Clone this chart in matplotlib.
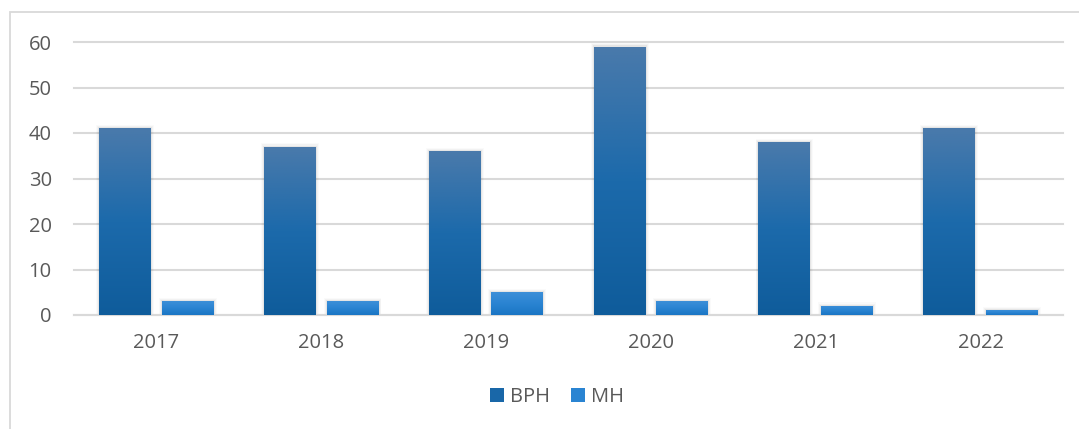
import matplotlib
matplotlib.use("Agg")
import matplotlib.pyplot as plt
import numpy as np
from matplotlib.patches import Rectangle
from matplotlib.colors import LinearSegmentedColormap

years = ["2017", "2018", "2019", "2020", "2021", "2022"]
bph = [41, 37, 36, 59, 38, 41]
mh = [3, 3, 5, 3, 2, 1]
yticks = [0, 10, 20, 30, 40, 50, 60]

plt.rcParams['font.family'] = ['Open Sans', 'DejaVu Sans']

W, H = 1079, 429
fig = plt.figure(figsize=(W / 100, H / 100), dpi=100)
ax = fig.add_axes([74 / W, 1 - 315 / H, (1063 - 74) / W, (315 - 42) / H])

# outer chart border
fig.patches.append(Rectangle((10 / W, -0.1), 1.2, 1 - 12 / H + 0.1, transform=fig.transFigure,
                             fill=False, edgecolor='#d9d9d9', linewidth=1.3, zorder=0))

x = np.arange(len(years))
bw = 0.315
off = 0.19

cm_bph = LinearSegmentedColormap.from_list('bph', ['#0f5c9b', '#1c6aab', '#4a7aab'])
cm_mh = LinearSegmentedColormap.from_list('mh', ['#1a75c4', '#2a84d2', '#3d8fd8'])

def grad_bars(xs, vals, cmap, label):
    bars = ax.bar(xs, vals, width=bw, color=cmap(0.5), label=label, zorder=3, linewidth=0)
    grad = np.linspace(0, 1, 256).reshape(-1, 1)
    for b in bars:
        bx, by = b.get_x(), b.get_y()
        bwid, bh = b.get_width(), b.get_height()
        # soft shadow
        for k, a in enumerate([0.05, 0.03, 0.02]):
            d = 0.006 * (k + 1)
            sh = Rectangle((bx - d, by), bwid + 2 * d, bh + 0.25 * (k + 1),
                           facecolor='black', alpha=a, linewidth=0, zorder=2)
            ax.add_patch(sh)
        im = ax.imshow(grad, extent=(bx, bx + bwid, by, by + bh), origin='lower',
                       cmap=cmap, aspect='auto', zorder=3.5, interpolation='bicubic')
        im.set_clip_path(b)
    return bars

grad_bars(x - off, bph, cm_bph, 'BPH')
grad_bars(x + off, mh, cm_mh, 'MH')

ax.set_xlim(-0.5, len(years) - 0.5)
ax.set_ylim(0, 60)
ax.set_yticks(yticks)
ax.set_xticks(x)
ax.set_xticklabels(years)
ax.yaxis.grid(True, color='#d9d9d9', linewidth=1.5, zorder=0)
ax.set_axisbelow(True)
for s in ['top', 'right', 'left']:
    ax.spines[s].set_visible(False)
ax.spines['bottom'].set_color('#d9d9d9')
ax.spines['bottom'].set_linewidth(1.5)
ax.tick_params(axis='both', length=0, colors='#595959', labelsize=14.5)
ax.tick_params(axis='y', pad=16)
ax.tick_params(axis='x', pad=13)
for gl in ax.get_ygridlines():
    gl.set_clip_on(False)

handles = [Rectangle((0, 0), 1, 1, facecolor=cm_bph(0.4)), Rectangle((0, 0), 1, 1, facecolor=cm_mh(0.5))]
fig.legend(handles, ['BPH', 'MH'], loc='center', bbox_to_anchor=(557 / W, 1 - 397 / H),
           ncol=2, frameon=False, fontsize=14.5, labelcolor='#595959',
           handlelength=0.7, handleheight=0.7, handletextpad=0.3, columnspacing=1.0)

fig.savefig('out.png', dpi=100)
